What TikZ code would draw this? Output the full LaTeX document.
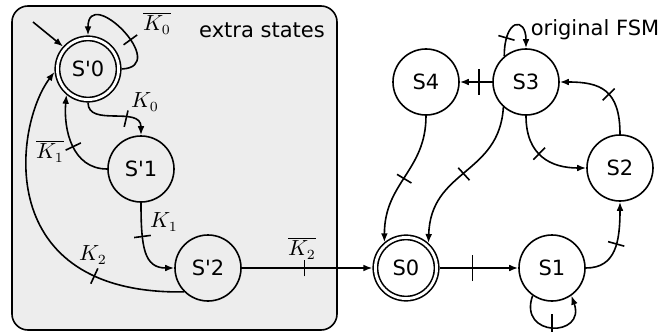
\documentclass[tikz,border=0pt]{standalone}
\usepackage{fontspec}
\setmainfont{DejaVu Sans}[Ligatures=TeXOff]
\usetikzlibrary{arrows.meta,decorations.markings}
\tikzset{every picture/.style={line width=0.8pt}}
\tikzset{
  state/.style={circle,draw,minimum size=33pt,inner sep=0pt},
  accept/.style={state,double,double distance=1.4pt,minimum size=30.6pt,outer sep=1.5pt},
  cut/.style={postaction={decorate,decoration={markings,mark=at position #1 with {\draw[-] (0,-4.2pt)--(0,4.2pt);}}}},
  bigcut/.style={postaction={decorate,decoration={markings,mark=at position #1 with {\draw[-] (0,-6.5pt)--(0,6.5pt);}}}},
}
\begin{document}
\begin{tikzpicture}[x=0.5pt,y=0.5pt,font=\fontsize{10.5}{12}\selectfont,>={Latex[length=4.5pt,width=3.4pt]}]
				\useasboundingbox (0,0) rectangle (660,-332);
				\fill[gray!14,draw=black,rounded corners=8pt] (12,-6) rectangle (337,-330); %追加部分
				\node (extra) at (262,-30) {extra states};
				\node (orig) at (595,-30) {original FSM};
				\node[accept] (e0) at (88,-69) {S'0};
				\node[state] (e1) at (141,-169) {S'1};
				\node[state] (e2) at (208,-268) {S'2};
				\node[accept] (s0) at (406,-268) {S0};
				\node[state] (s1) at (552,-268) {S1};
				\node[state] (s2) at (620,-168) {S2};
				\node[state] (s3) at (526,-82) {S3};
				\node[state] (s4) at (426,-82) {S4};
				\coordinate (start) at (33,-22); %初期状態
				\draw[->] (start) -- (e0.138);
				\draw[->,cut=0.4] (e0.east) .. controls +(50,2) and +(0,52) .. (e0.north);
				\draw[->,cut=0.65] (e0.south) .. controls +(0,-25) and +(0,30) .. (e1.north);
				\draw[->,cut=0.45] (e1.west) .. controls +(-35,0) and +(-3,-35) .. (e0.230);
				\draw[->,cut=0.4] (e1.south) .. controls +(0,-45) and +(-30,0) .. (e2.west);
				\draw[->,cut=0.28] (e2.225) .. controls +(-193,-3) and +(-40,-53) .. (e0.185);
				\draw[->,cut=0.48] (e2) -- (s0);
				\node (k0b) at (157,-23) {$\overline{K_0}$};
				\node (k0) at (145,-102) {$K_0$};
				\node (k1b) at (50,-151) {$\overline{K_1}$};
				\node (k1) at (164,-222) {$K_1$};
				\node (k2) at (93,-255) {$K_2$};
				\node (k2b) at (302,-248) {$\overline{K_2}$};
				\draw[->,bigcut=0.42] (s0) -- (s1); %元のFSM
				\draw[->,bigcut=0.5] (s1.235) .. controls +(-15,-42) and +(15,-42) .. (s1.305);
				\draw[->,cut=0.5] (s1.east) .. controls +(30,0) and +(0,-40) .. (s2.south);
				\draw[->,cut=0.45] (s2.north) .. controls +(0,45) and +(40,0) .. (s3.east);
				\draw[->,cut=0.45] (s3.south) .. controls +(0,-40) and +(-35,0) .. (s2.west);
				\draw[->,bigcut=0.41] (s3) -- (s4);
				\draw[->,cut=0.3] (s3.130) .. controls +(0,38) and +(0,32) .. (s3.north);
				\draw[->,cut=0.5] (s4.south) .. controls +(0,-55) and +(0,60) .. (s0.130);
				\draw[->,cut=0.5] (s3.228) .. controls +(-4,-68) and +(2,74) .. (s0.48);
			\end{tikzpicture}
\end{document}
